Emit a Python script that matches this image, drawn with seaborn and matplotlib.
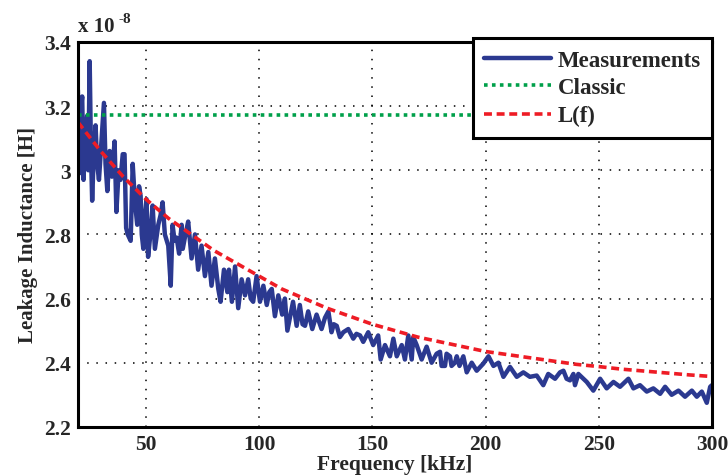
import matplotlib
matplotlib.use('Agg')
import matplotlib.pyplot as plt
import seaborn as sns
import pandas as pd

# measured leakage inductance, values in units of 1e-8 H
meas_f = [20.0, 20.6, 21.2, 21.9, 22.5, 23.2, 24.1, 24.6, 25.2, 25.8, 26.3, 27.0, 27.8, 28.5,
          29.3, 30.3, 31.5, 32.2, 33.0, 34.0, 35.0, 36.2, 37.0, 38.0, 38.8, 39.8, 40.6, 41.3,
          42.0, 43.3, 44.2, 45.2, 46.2, 47.0, 47.7, 48.2, 48.9, 49.6, 50.3, 51.0, 52.0, 53.0,
          54.0, 55.5, 56.5, 57.4, 58.4, 59.9, 61.0, 61.8, 62.7, 63.6, 64.7, 65.8, 66.3, 67.5,
          68.7, 70.2, 71.7, 73.1, 74.6, 76.1, 77.6, 79.0, 80.5, 82.0, 83.0, 84.5, 86.0, 86.7,
          88.0, 89.4, 90.8, 92.3, 93.8, 95.2, 96.3, 97.4, 98.9, 100.4, 101.9, 103.4, 104.5, 105.6,
          107.0, 108.5, 110.2, 111.4, 112.5, 113.6, 115.0, 116.6, 118.0, 119.2, 120.3, 121.7, 123.5,
          125.4, 127.6, 129.1, 130.6, 132.0, 133.0, 134.3, 135.7, 137.2, 139.4, 141.6, 143.0, 144.6,
          146.0, 148.2, 150.4, 152.6, 153.7, 155.6, 157.8, 159.3, 160.8, 163.0, 164.4, 165.9, 167.4,
          168.1, 169.6, 171.8, 174.0, 176.2, 178.4, 179.9, 180.6, 182.1, 182.8, 184.3, 185.0, 186.5,
          187.3, 188.5, 190.2, 191.7, 193.9, 196.1, 199.0, 201.3, 203.5, 205.7, 207.9, 210.8, 213.8,
          216.7, 219.6, 222.6, 225.5, 227.7, 230.7, 232.9, 234.4, 235.8, 237.3, 238.8, 239.5, 241.0,
          242.5, 244.7, 247.6, 250.6, 253.5, 256.5, 259.4, 263.1, 265.3, 268.2, 271.2, 274.1, 277.1,
          279.3, 282.2, 285.2, 288.1, 291.1, 293.3, 295.5, 297.7, 299.2, 300.0]
meas_L = [3.25, 2.99, 3.18, 3.23, 2.97, 3.10, 3.17, 3.00, 3.34, 3.05, 2.905, 3.05, 3.14, 3.02,
          2.97, 3.08, 3.21, 3.02, 2.935, 3.06, 2.98, 3.09, 2.87, 3.00, 2.97, 3.05, 3.05, 2.82,
          2.80, 2.78, 3.02, 2.90, 2.83, 2.95, 2.92, 2.80, 2.755, 2.86, 2.91, 2.73, 2.80, 2.89,
          2.755, 2.83, 2.86, 2.90, 2.80, 2.765, 2.64, 2.83, 2.78, 2.79, 2.74, 2.83, 2.755, 2.80,
          2.84, 2.725, 2.80, 2.69, 2.765, 2.67, 2.745, 2.64, 2.725, 2.63, 2.59, 2.69, 2.62, 2.69,
          2.59, 2.70, 2.57, 2.66, 2.61, 2.66, 2.60, 2.59, 2.67, 2.59, 2.64, 2.58, 2.62, 2.63,
          2.545, 2.61, 2.55, 2.60, 2.50, 2.54, 2.59, 2.515, 2.58, 2.52, 2.515, 2.56, 2.505,
          2.55, 2.505, 2.54, 2.56, 2.495, 2.52, 2.515, 2.48, 2.495, 2.505, 2.475, 2.49, 2.485,
          2.465, 2.495, 2.455, 2.485, 2.41, 2.455, 2.42, 2.475, 2.42, 2.455, 2.41, 2.485, 2.41,
          2.48, 2.455, 2.41, 2.45, 2.40, 2.428, 2.434, 2.39, 2.39, 2.428, 2.42, 2.39, 2.40,
          2.42, 2.39, 2.42, 2.37, 2.40, 2.375, 2.397, 2.42, 2.39, 2.40, 2.356, 2.387, 2.356,
          2.37, 2.356, 2.36, 2.33, 2.365, 2.35, 2.37, 2.375, 2.35, 2.345, 2.365, 2.33, 2.365,
          2.355, 2.34, 2.313, 2.35, 2.32, 2.34, 2.325, 2.35, 2.32, 2.33, 2.31, 2.32, 2.303,
          2.325, 2.30, 2.313, 2.294, 2.313, 2.294, 2.31, 2.275, 2.325, 2.33]

# model curve L(f)
model_f = [20, 30, 40, 50, 60, 70, 80, 90, 100, 110, 120, 130, 140, 150, 160,
           170, 180, 190, 200, 210, 220, 230, 240, 250, 260, 270, 280, 290, 300]
model_L = [3.15, 3.06, 2.98, 2.91, 2.85, 2.80, 2.75, 2.71, 2.67, 2.63, 2.60, 2.57, 2.545, 2.52, 2.50,
           2.48, 2.465, 2.45, 2.435, 2.425, 2.415, 2.405, 2.395, 2.388, 2.38, 2.374, 2.368, 2.362, 2.357]

classic_L = 3.173

x_ticks = [50, 100, 150, 200, 250, 300]
y_ticks = [2.2, 2.4, 2.6, 2.8, 3.0, 3.2, 3.4]

sns.set_style('white')
plt.rcParams['font.family'] = ['Liberation Serif', 'DejaVu Serif']
plt.rcParams['font.weight'] = 'bold'

meas = pd.DataFrame({'f': meas_f, 'L': meas_L})
model = pd.DataFrame({'f': model_f, 'L': model_L})

fig = plt.figure(figsize=(7.28, 4.77), dpi=100)
ax = fig.add_axes([0.107, 0.103, 0.871, 0.807])

sns.lineplot(data=meas, x='f', y='L', ax=ax, color='#2b3990', linewidth=3.2,
             sort=False, estimator=None, label='Measurements')
ax.axhline(classic_L, color='#00a04a', linestyle=(0, (1, 1.2)), linewidth=2.6, label='Classic')
sns.lineplot(data=model, x='f', y='L', ax=ax, color='#ee1c25', linewidth=2.6,
             linestyle=(0, (2.2, 1.3)), sort=False, estimator=None, label='L(f)')

ax.set_xlim(20, 300)
ax.set_ylim(2.2, 3.4)
ax.set_xticks(x_ticks)
ax.set_yticks(y_ticks)
ax.set_yticklabels(['%g' % v for v in y_ticks])
ax.tick_params(direction='in', labelsize=15.5, length=5, width=1.5, pad=5)
ax.grid(True, color='black', linestyle=(0, (1, 5)), linewidth=1.1)

for sp in ax.spines.values():
    sp.set_color('black')
    sp.set_linewidth(2.2)

ax.set_xlabel('Frequency [kHz]', fontsize=15.5, fontweight='bold', labelpad=0)
ax.set_ylabel('Leakage Inductance [H]', fontsize=15, fontweight='bold', labelpad=4)
ax.text(0.0, 1.015, 'x 10', transform=ax.transAxes, fontsize=15,
        fontweight='bold', ha='left', va='bottom')
ax.annotate('-8', xy=(0.0, 1.015), xycoords='axes fraction', xytext=(29, 8),
            textcoords='offset points', fontsize=11, fontweight='bold', va='bottom')

leg = ax.legend(loc='upper right', borderaxespad=0, fontsize=16.5, frameon=True,
                fancybox=False, framealpha=1, edgecolor='black', handlelength=2.9,
                handletextpad=0.3, borderpad=0.5, labelspacing=0.3)
leg.get_frame().set_linewidth(2.2)
leg.set_bbox_to_anchor((1.0, 1.01), transform=ax.transAxes)

fig.savefig('out.png', dpi=100)
